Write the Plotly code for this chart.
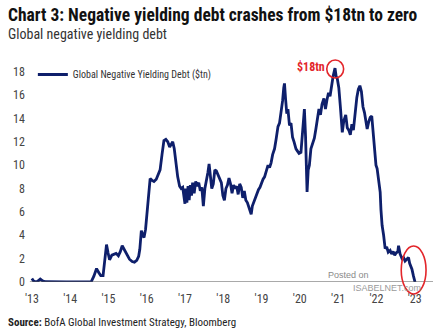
import plotly.graph_objects as go

# ---- data (decimal year, $tn) ----
years = [
    2013.00, 2013.04, 2013.08, 2013.15, 2013.22, 2013.28, 2013.35, 2013.50, 2013.70, 2013.90,
    2014.10, 2014.30, 2014.55, 2014.62, 2014.69, 2014.75, 2014.80, 2014.86, 2014.92, 2014.95,
    2014.99, 2015.03, 2015.09, 2015.14, 2015.20, 2015.26, 2015.31, 2015.36, 2015.42, 2015.48,
    2015.55, 2015.62, 2015.68, 2015.74, 2015.79, 2015.82, 2015.86, 2015.90, 2015.93, 2015.97,
    2016.01, 2016.04, 2016.09, 2016.14, 2016.19, 2016.25, 2016.30, 2016.35, 2016.40, 2016.45,
    2016.50, 2016.55, 2016.60, 2016.64, 2016.68, 2016.72, 2016.76, 2016.81, 2016.86, 2016.90,
    2016.94, 2016.97, 2017.00, 2017.02, 2017.05, 2017.08, 2017.11, 2017.14, 2017.17, 2017.20,
    2017.24, 2017.28, 2017.32, 2017.36, 2017.40, 2017.44, 2017.48, 2017.52, 2017.56, 2017.60,
    2017.63, 2017.66, 2017.70, 2017.74, 2017.78, 2017.82, 2017.86, 2017.90, 2017.95, 2017.99,
    2018.03, 2018.07, 2018.11, 2018.15, 2018.19, 2018.23, 2018.27, 2018.31, 2018.35, 2018.39,
    2018.43, 2018.47, 2018.51, 2018.55, 2018.59, 2018.63, 2018.67, 2018.71, 2018.73, 2018.76,
    2018.80, 2018.84, 2018.88, 2018.92, 2018.96, 2019.00, 2019.04, 2019.08, 2019.13, 2019.17,
    2019.21, 2019.25, 2019.29, 2019.34, 2019.38, 2019.43, 2019.47, 2019.51, 2019.55, 2019.58,
    2019.60, 2019.63, 2019.66, 2019.69, 2019.73, 2019.77, 2019.81, 2019.85, 2019.90, 2019.94,
    2019.98, 2020.03, 2020.06, 2020.09, 2020.12, 2020.15, 2020.19, 2020.22, 2020.25, 2020.29,
    2020.33, 2020.38, 2020.42, 2020.46, 2020.50, 2020.54, 2020.58, 2020.63, 2020.67, 2020.71,
    2020.75, 2020.79, 2020.83, 2020.87, 2020.92, 2020.95, 2020.98, 2021.02, 2021.06, 2021.11,
    2021.15, 2021.20, 2021.24, 2021.28, 2021.32, 2021.36, 2021.40, 2021.44, 2021.49, 2021.53,
    2021.57, 2021.61, 2021.65, 2021.69, 2021.73, 2021.76, 2021.80, 2021.84, 2021.88, 2021.91,
    2021.95, 2021.99, 2022.02, 2022.06, 2022.10, 2022.12, 2022.15, 2022.19, 2022.23, 2022.27,
    2022.31, 2022.36, 2022.40, 2022.44, 2022.48, 2022.52, 2022.56, 2022.58, 2022.62, 2022.67,
    2022.71, 2022.75, 2022.79, 2022.84, 2022.87, 2022.90, 2022.93, 2022.97, 2023.01,
]
debt_tn = [
    0.30, 0.10, 0.02, 0.05, 0.25, 0.10, 0.02, 0.00, 0.00, 0.00,
    0.00, 0.00, 0.02, 0.50, 1.15, 0.80, 0.55, 0.55, 2.00, 3.20,
    2.50, 1.90, 2.30, 2.40, 2.45, 2.25, 2.60, 3.10, 2.70, 2.35,
    1.95, 1.75, 1.70, 1.85, 2.20, 2.80, 4.40, 4.00, 3.80, 4.50,
    6.00, 7.20, 8.85, 8.70, 8.60, 8.80, 9.20, 9.60, 10.90, 12.10,
    12.20, 12.00, 11.55, 11.80, 12.00, 11.40, 10.30, 9.00, 8.20, 8.00,
    8.10, 7.50, 6.70, 8.00, 6.80, 8.20, 7.00, 8.30, 7.40, 8.50,
    7.60, 8.60, 8.20, 8.50, 7.80, 8.10, 6.50, 8.00, 8.60, 9.40,
    10.10, 9.00, 8.00, 8.40, 9.60, 9.50, 9.20, 8.80, 8.50, 7.40,
    7.00, 8.00, 8.30, 8.90, 8.40, 7.60, 8.30, 8.00, 8.20, 7.50,
    8.40, 8.10, 7.20, 7.80, 7.00, 6.80, 6.40, 6.10, 5.80, 6.50,
    6.90, 7.20, 7.50, 7.90, 8.10, 8.50, 8.80, 9.00, 9.60, 10.00,
    9.80, 10.20, 10.90, 11.40, 12.20, 13.30, 13.60, 14.50, 15.50, 16.60,
    17.00, 15.60, 14.40, 14.80, 13.40, 13.60, 12.40, 12.00, 11.40, 11.20,
    11.00, 11.10, 12.60, 13.90, 14.80, 12.50, 7.70, 9.60, 10.00, 11.40,
    11.80, 12.30, 13.10, 13.80, 14.80, 14.30, 15.20, 15.70, 14.80, 15.60,
    16.20, 15.90, 16.80, 17.60, 18.30, 17.60, 17.40, 16.60, 15.00, 12.80,
    13.80, 14.30, 13.20, 13.00, 12.60, 13.50, 13.00, 14.50, 15.80, 16.50,
    16.80, 16.30, 15.00, 14.50, 13.60, 13.10, 13.70, 14.10, 14.20, 13.20,
    11.40, 10.00, 9.70, 8.60, 7.70, 6.20, 4.85, 4.00, 2.85, 3.00,
    2.55, 2.70, 2.40, 2.60, 2.30, 2.50, 2.60, 3.10, 2.40, 2.00,
    2.10, 1.80, 1.95, 2.10, 1.60, 1.40, 1.10, 0.50, 0.00,
]
tick_years = [2013, 2014, 2015, 2016, 2017, 2018, 2019, 2020, 2021, 2022, 2023]
tick_text = ["'13", "'14", "'15", "'16", "'17", "'18", "'19", "'20", "'21", "'22", "'23"]
y_ticks = [0, 2, 4, 6, 8, 10, 12, 14, 16, 18]

NARROW = "Liberation Sans Narrow, Roboto Condensed, Arial Narrow, Roboto, sans-serif"
NAVY = "#0e1f6b"
RED = "#e3262b"

fig = go.Figure()
fig.add_trace(go.Scatter(
    x=years, y=debt_tn, mode="lines",
    line=dict(color=NAVY, width=2.8),
    name="Global Negative Yielding Debt ($tn)",
))

W, H = 441, 335
ml, mr, mt, mb = 10, 8, 60, 53
pw = W - ml - mr
ph = H - mt - mb

fig.update_layout(
    width=W, height=H,
    margin=dict(l=ml, r=mr, t=mt, b=mb, pad=0),
    paper_bgcolor="white", plot_bgcolor="white",
    showlegend=True,
    legend=dict(x=(30 - ml) / pw, y=1 - (71 - mt - 11) / ph, xanchor="left", yanchor="top",
                font=dict(family=NARROW, size=10, color="#333333"),
                bgcolor="rgba(0,0,0,0)", itemwidth=30, tracegroupgap=0),
    xaxis=dict(domain=[(27 - ml) / pw, 1], range=[2012.948, 2023.48],
               tickvals=tick_years, ticktext=tick_text, showgrid=False, zeroline=False,
               showline=False, ticks="outside", ticklen=6, tickcolor="rgba(0,0,0,0)",
               tickfont=dict(family=NARROW, size=12, color="#444444")),
    yaxis=dict(range=[0, 19], tickvals=y_ticks, showgrid=False, zeroline=False,
               anchor="free", position=(22 - ml) / pw, side="left",
               ticks="", showline=False,
               tickfont=dict(family=NARROW, size=12, color="#444444")),
    font=dict(family=NARROW),
)

# axis baseline at y = 0
fig.add_shape(type="line", xref="x domain", yref="y", x0=0, x1=1, y0=0, y1=0,
              line=dict(color="#555555", width=1.2))

# red ellipses
fig.add_shape(type="circle", xref="paper", yref="paper",
              x0=(326 - ml) / pw, x1=(343 - ml) / pw,
              y0=(282 - 78) / ph, y1=(282 - 60) / ph,
              line=dict(color=RED, width=1.6))
fig.add_shape(type="circle", xref="paper", yref="paper",
              x0=(401 - ml) / pw, x1=(426 - ml) / pw,
              y0=(282 - 294) / ph, y1=(282 - 246) / ph,
              line=dict(color=RED, width=1.6))

ann = []
ann.append(dict(text="<b>Chart 3: Negative yielding debt crashes from $18tn to zero</b>",
                xref="paper", yref="paper", x=(3 - ml) / pw, y=(282 - 3) / ph,
                xanchor="left", yanchor="top", showarrow=False,
                font=dict(family=NARROW, size=17.5, color="#111111")))
ann.append(dict(text="Global negative yielding debt",
                xref="paper", yref="paper", x=(3 - ml) / pw, y=(282 - 24) / ph,
                xanchor="left", yanchor="top", showarrow=False,
                font=dict(family=NARROW, size=14, color="#333333")))
ann.append(dict(text="<b>Source:</b> BofA Global Investment Strategy, Bloomberg",
                xref="paper", yref="paper", x=(3 - ml) / pw, y=(282 - 322) / ph,
                xanchor="left", yanchor="middle", showarrow=False,
                font=dict(family=NARROW, size=11, color="#222222")))
ann.append(dict(text="<b>$18tn</b>",
                xref="paper", yref="paper", x=(310 - ml) / pw, y=(282 - 67) / ph,
                xanchor="center", yanchor="middle", showarrow=False,
                font=dict(family=NARROW, size=12, color=RED)))
ann.append(dict(text="Posted on",
                xref="paper", yref="paper", x=(348 - ml) / pw, y=(282 - 275) / ph,
                xanchor="center", yanchor="middle", showarrow=False,
                font=dict(family="Liberation Sans, Arial", size=9, color="#8a8a8a")))
ann.append(dict(text="ISABELNET.com",
                xref="paper", yref="paper", x=(350 - ml) / pw, y=(282 - 288) / ph,
                xanchor="left", yanchor="middle", showarrow=False,
                font=dict(family="Liberation Sans, Arial", size=9, color="#9a9a9a")))
fig.update_layout(annotations=ann)

fig.write_html("out.html")
